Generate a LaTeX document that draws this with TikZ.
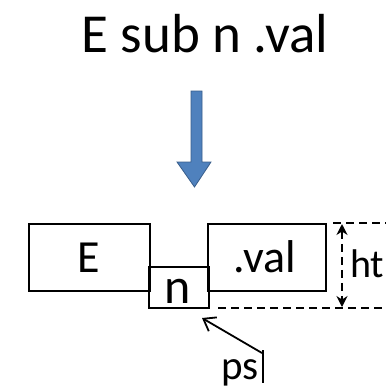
\documentclass[tikz,border=0pt]{standalone}
\usepackage{fontspec}
\setmainfont{Carlito}
\usetikzlibrary{arrows.meta}
\definecolor{arrowblue}{HTML}{4F81BD}
\definecolor{arrowedge}{HTML}{385D8A}
\begin{document}
\begin{tikzpicture}[x=1pt,y=-1pt,
  boxst/.style={draw,line width=2pt,inner sep=0pt,anchor=north west},
  txt/.style={inner sep=0pt,anchor=base},
  dimline/.style={line width=1.8pt,dash pattern=on 8pt off 5pt}]
\useasboundingbox (0,0) rectangle (388,389);
% title
\node[txt] (title) at (205,52) {\fontsize{55}{60}\selectfont E sub n .val};
% blue arrow
\filldraw[fill=arrowblue,draw=arrowedge,line width=0.8pt]
  (191,91) -- (202,91) -- (202,162) -- (211,162) -- (194.5,187) -- (177,162) -- (191,162) -- cycle;
% boxes
\node[boxst,minimum width=60pt,minimum height=41pt] (nbox) at (148,266) {};
\node[boxst,minimum width=121pt,minimum height=67pt] (ebox) at (28,223) {};
\node[boxst,minimum width=118pt,minimum height=67pt] (vbox) at (207,223) {};
\node[txt] (etxt) at (89,272) {\fontsize{46}{50}\selectfont E};
\node[txt] (vtxt) at (265,272) {\fontsize{46}{50}\selectfont .val};
\node[txt] (ntxt) at (178,303) {\fontsize{50}{54}\selectfont n};
% dimension lines
\coordinate (t1) at (333,223);
\coordinate (t2) at (386,223);
\coordinate (b1) at (218,308);
\coordinate (b2) at (386,308);
\draw[dimline] (t1) -- (t2);
\draw[dimline] (b1) -- (b2);
\coordinate (ha) at (342,224);
\coordinate (hb) at (342,307);
\draw[dimline,{Stealth[length=11pt,width=11pt]}-{Stealth[length=11pt,width=11pt]}] (ha) -- (hb);
\node[txt,anchor=base west] (ht) at (350,277) {\fontsize{40}{44}\selectfont ht};
% ps pointer
\node[txt,anchor=base west] (ps) at (221,379) {\fontsize{41}{44}\selectfont ps};
\coordinate (pa) at (262,353);
\coordinate (pb) at (202,318);
\draw[line width=1.8pt,-{Straight Barb[length=11pt,width=16pt]}] (pa) -- (pb);
\coordinate (c1) at (263,350);
\coordinate (c2) at (263,383);
\draw[line width=1.8pt] (c1) -- (c2);
\end{tikzpicture}
\end{document}
